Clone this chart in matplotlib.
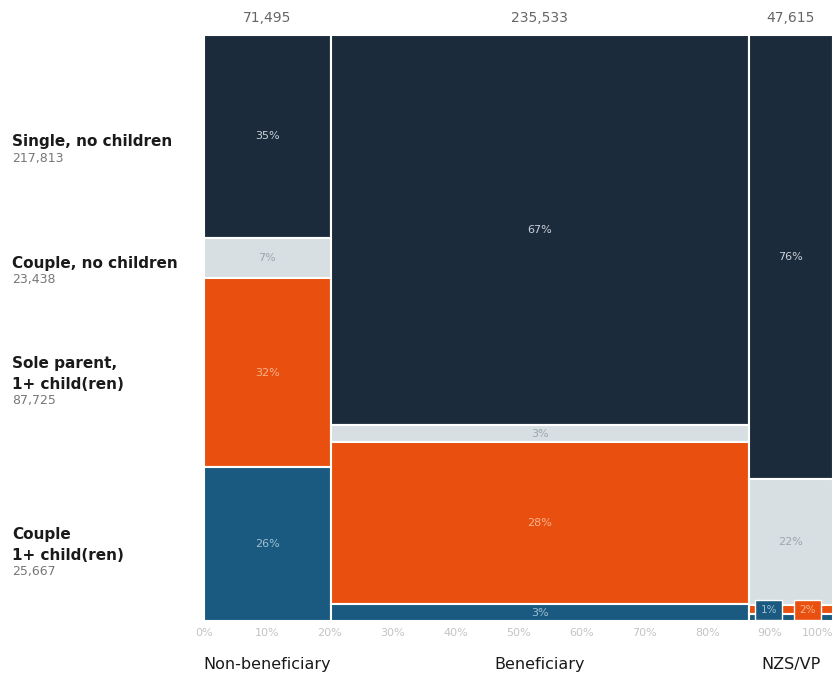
import matplotlib.pyplot as plt
from matplotlib.transforms import blended_transform_factory

# columns (income support status) and their counts
groups = ['Non-beneficiary', 'Beneficiary', 'NZS/VP']
group_totals = [71495, 235533, 47615]

# household types, top to bottom
households = ['Single, no children', 'Couple, no children',
              'Sole parent,\n1+ child(ren)', 'Couple\n1+ child(ren)']
household_totals = [217813, 23438, 87725, 25667]

# share (%) of each household type within each column, top to bottom
shares_nonben = [34.6, 6.9, 32.3, 26.2]
shares_ben = [66.6, 2.9, 27.6, 2.9]
shares_nzs = [75.7, 21.6, 1.5, 1.2]
shares = [shares_nonben, shares_ben, shares_nzs]

colors = ['#1c2b3b', '#d7dfe3', '#e94f0e', '#1b5a80']
text_cols = ['#c9d2da', '#9aa6ae', '#f7b48f', '#9fbfd4']

fig = plt.figure(figsize=(8.35, 6.77), dpi=100)
ax = fig.add_axes([204 / 835, 1 - 621 / 677, 629 / 835, 586 / 677])

grand = sum(group_totals)
x0 = 0
for g, (name, tot, sh) in enumerate(zip(groups, group_totals, shares)):
    w = tot / grand * 100
    top = 100
    for k, s in enumerate(sh):
        bottom = top - s
        ax.bar(x0, s, width=w, bottom=bottom, align='edge', color=colors[k],
               edgecolor='white', linewidth=1.5)
        if s >= 2.5:
            ax.text(x0 + w / 2, bottom + s / 2, f'{s:.0f}%', ha='center',
                    va='center', fontsize=8, color=text_cols[k])
        top = bottom
    # small segments get boxed labels along the bottom of the column
    if g == 2:
        ax.text(x0 + w * 0.24, 1.9, f'{sh[3]:.0f}%', ha='center', va='center',
                fontsize=7.5, color='#9fbfd4',
                bbox=dict(boxstyle='square,pad=0.5', fc=colors[3], ec='white',
                          lw=1))
        ax.text(x0 + w * 0.70, 1.9, f'{sh[2]:.0f}%', ha='center', va='center',
                fontsize=7.5, color='#f7b48f',
                bbox=dict(boxstyle='square,pad=0.5', fc=colors[2], ec='white',
                          lw=1))
    # totals above, names below
    ax.text(x0 + w / 2, 102.9, f'{tot:,}', ha='center', va='center',
            fontsize=10, color='#666666', clip_on=False)
    ax.text(x0 + w / 2, -7.4, name, ha='center', va='center', fontsize=11.5,
            color='#1a1a1a', clip_on=False)
    x0 += w

# row labels on the left, aligned with the first column's cells
tr = blended_transform_factory(fig.transFigure, ax.transData)
px = 100 / 586
top = 100
for k, (lab, tot) in enumerate(zip(households, household_totals)):
    s = shares_nonben[k]
    c = top - s / 2
    nlines = lab.count('\n') + 1
    split = c - (8 + 6 * nlines) * px
    ax.text(12 / 835, split + 1.2 * px, lab, transform=tr, ha='left',
            va='bottom', fontsize=11, fontweight='bold', color='#1a1a1a',
            linespacing=1.5)
    ax.text(12 / 835, split - 1.2 * px, f'{tot:,}', transform=tr, ha='left',
            va='top', fontsize=9, color='#777777')
    top -= s

ax.set_xlim(0, 100)
ax.set_ylim(0, 100)
ax.set_xticks(range(0, 101, 10))
ax.set_xticklabels([f'{t}%' for t in range(0, 101, 10)], fontsize=8,
                   color='#c4c4c4')
ax.get_xticklabels()[-1].set_horizontalalignment('right')
ax.tick_params(axis='x', length=0, pad=5)
ax.set_yticks([])
for sp in ax.spines.values():
    sp.set_visible(False)

fig.savefig('out.png', dpi=100)
